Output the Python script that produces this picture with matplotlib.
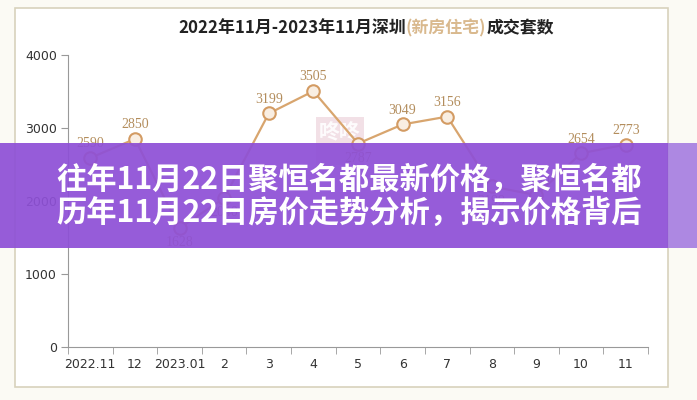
"""
Shenzhen new-home sales chart with a headline banner on top
"""

import matplotlib
matplotlib.use("Agg")
from matplotlib import pyplot as plt
from matplotlib.patches import Rectangle

plt.rcParams['font.family'] = ['Noto Sans CJK SC', 'DejaVu Sans']

# data (month 2 and month 9 sit under the banner, estimated)
months = ['2022.11', '12', '2023.01', '2', '3', '4', '5', '6', '7', '8', '9', '10', '11']
sales = [2590, 2850, 1628, 2040, 3199, 3505, 2787, 3049, 3156, 2199, 2080, 2654, 2773]
label_below = [False, False, True, True, False, False, True, False, False, True, False, False, False]

title_parts = ['2022年11月-2023年11月深圳', '(新房住宅)', '成交套数']
title_colors = ['#222222', '#d9b98e', '#222222']
banner_lines = ['往年11月22日聚恒名都最新价格，聚恒名都', '历年11月22日房价走势分析，揭示价格背后']

W, H = 697, 400
fig = plt.figure(figsize=(W / 100, H / 100), dpi=100)
fig.patch.set_facecolor('#fbfaf4')

# chart panel frame
fig.patches.append(Rectangle((15 / W, 1 - 387 / H), 653 / W, 379 / H, transform=fig.transFigure,
                             facecolor='white', edgecolor='#d8d2bc', linewidth=1.2, zorder=-2))

ax = fig.add_axes([68 / W, 1 - 347 / H, 580 / W, 292 / H])
ax.set_zorder(1)
ax.set_facecolor('none')
x = list(range(len(months)))
ax.plot(x, sales, color='#d8a56e', linewidth=1.6, marker='o', markersize=9,
        markerfacecolor='#f9eee2', markeredgecolor='#d39b63', markeredgewidth=1.5, zorder=3)

for xi, v, below in zip(x, sales, label_below):
    ax.annotate(str(v), (xi, v), xytext=(0, -6 if below else 5.5), textcoords='offset points',
                ha='center', va='top' if below else 'bottom', fontsize=10,
                family='Liberation Serif', color='#b38d5c', zorder=4)

ax.set_xlim(-0.5, len(months) - 0.5)
ax.set_ylim(0, 4000)
ax.set_yticks([0, 1000, 2000, 3000, 4000])
ax.set_xticks(x)
ax.set_xticklabels(months)
ax.set_xticks([i - 0.5 for i in range(len(months) + 1)], minor=True)
ax.tick_params(axis='x', which='major', length=0, pad=8, labelsize=9, labelcolor='#333333')
ax.tick_params(axis='x', which='minor', length=5, color='#999999')
ax.tick_params(axis='y', length=5, color='#999999', labelsize=9, labelcolor='#333333', pad=3)
for lbl in ax.get_xticklabels() + ax.get_yticklabels():
    lbl.set_family('DejaVu Sans')
ax.spines['top'].set_visible(False)
ax.spines['right'].set_visible(False)
ax.spines['left'].set_color('#999999')
ax.spines['bottom'].set_color('#999999')

# faint watermark stamp behind the line
fig.patches.append(Rectangle((316 / W, 1 - 165 / H), 48 / W, 48 / H, transform=fig.transFigure,
                             facecolor='#e7c3cf', alpha=0.5, edgecolor='none', zorder=0))
fig.text(340 / W, 1 - 133 / H, '咚咚', fontsize=15, fontweight='bold', color='white',
         ha='center', va='center', alpha=0.9, zorder=0)

# title built from coloured pieces, each one placed right after the last
prev = fig.text(178 / W, 1 - 28 / H, title_parts[0], fontsize=12.2, fontweight='bold',
                color=title_colors[0], va='center', ha='left')
for part, col in zip(title_parts[1:], title_colors[1:]):
    prev = fig.add_artist(matplotlib.text.Annotation(
        part, xy=(1, 0.5), xycoords=prev, va='center', ha='left',
        fontsize=12.2, fontweight='bold', color=col))

# headline banner over the chart
fig.patches.append(Rectangle((0, 1 - 248 / H), 668 / W, 105 / H, transform=fig.transFigure,
                             facecolor='#8e50d6', alpha=0.93, edgecolor='none', zorder=5))
fig.patches.append(Rectangle((668 / W, 1 - 248 / H), 29 / W, 105 / H, transform=fig.transFigure,
                             facecolor='#a57ce0', alpha=0.9, edgecolor='none', zorder=5))
fig.text(349 / W, 1 - 180 / H, banner_lines[0], fontsize=21.8, fontweight='black', color='white',
         ha='center', va='center', zorder=6)
fig.text(349 / W, 1 - 213 / H, banner_lines[1], fontsize=21.8, fontweight='black', color='white',
         ha='center', va='center', zorder=6)

fig.savefig('out.png', dpi=100, facecolor=fig.get_facecolor())
plt.close()
